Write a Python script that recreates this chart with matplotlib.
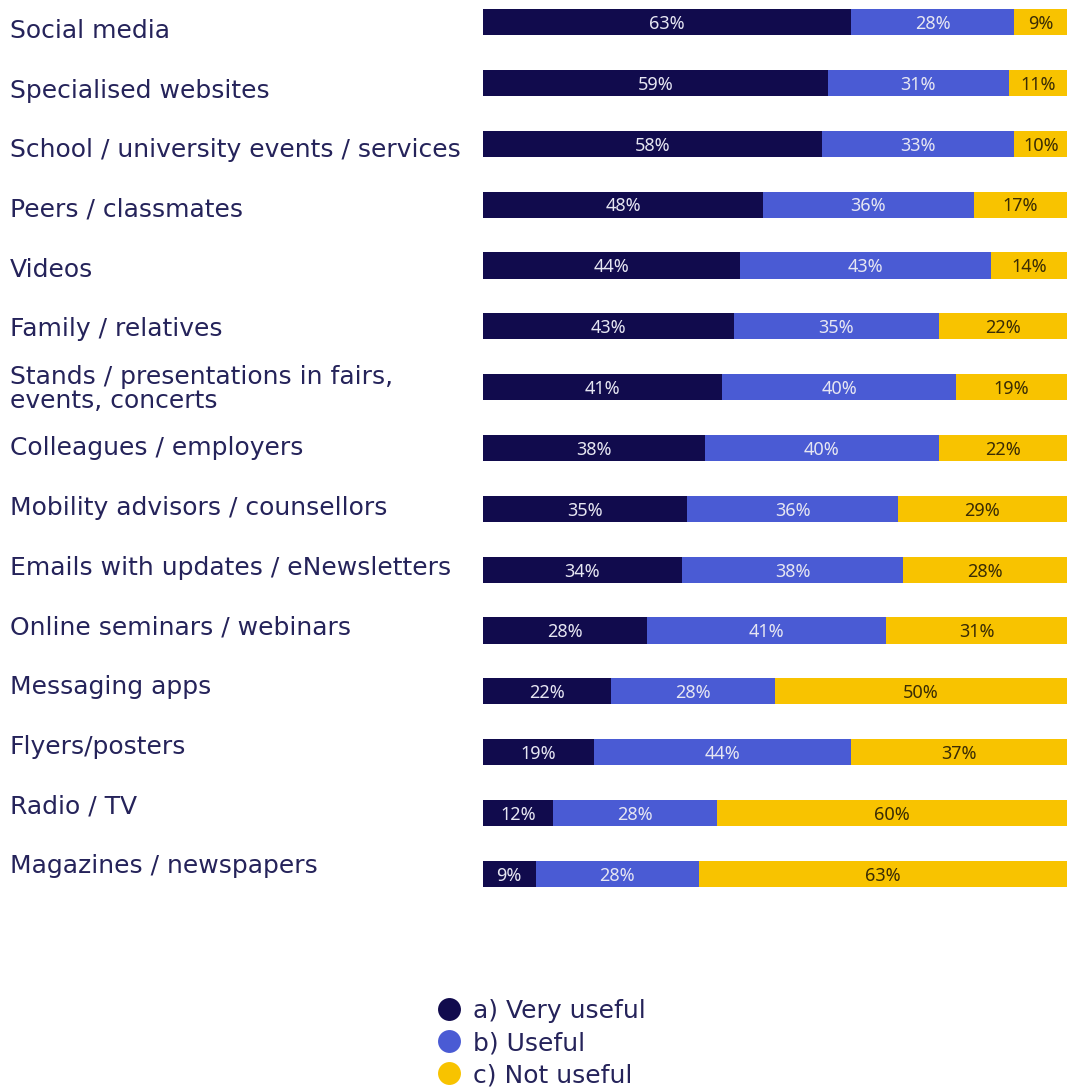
import matplotlib.pyplot as plt
from matplotlib.lines import Line2D
import numpy as np

# survey categories, top to bottom
categories = [
    'Social media',
    'Specialised websites',
    'School / university events / services',
    'Peers / classmates',
    'Videos',
    'Family / relatives',
    'Stands / presentations in fairs,\nevents, concerts',
    'Colleagues / employers',
    'Mobility advisors / counsellors',
    'Emails with updates / eNewsletters',
    'Online seminars / webinars',
    'Messaging apps',
    'Flyers/posters',
    'Radio / TV',
    'Magazines / newspapers',
]

very_useful = [63, 59, 58, 48, 44, 43, 41, 38, 35, 34, 28, 22, 19, 12, 9]
useful = [28, 31, 33, 36, 43, 35, 40, 40, 36, 38, 41, 28, 44, 28, 28]
not_useful = [9, 11, 10, 17, 14, 22, 19, 22, 29, 28, 31, 50, 37, 60, 63]

series_names = ['a) Very useful', 'b) Useful', 'c) Not useful']
colors = ['#110b4d', '#4a5bd4', '#f8c300']
text_colors = ['#e6e6f2', '#e6e6f2', '#3a2c05']
label_color = '#25235a'

plt.rcParams['font.family'] = ['DejaVu Sans']

W, H = 1070, 1091
fig = plt.figure(figsize=(W / 100, H / 100), dpi=100)
ax = fig.add_axes([483 / W, 1 - 887 / H, 584 / W, 878 / H])

bar_h = 0.43
y = np.arange(len(categories))
left = np.zeros(len(categories))
for vals, c, tc in zip([very_useful, useful, not_useful], colors, text_colors):
    vals = np.array(vals, dtype=float)
    ax.barh(y, vals, left=left, height=bar_h, color=c, edgecolor='none')
    for yi, l, v in zip(y, left, vals):
        right = min(l + v, 100)
        ax.text((l + right) / 2, yi + 0.03, f'{int(v)}%', ha='center', va='center',
                color=tc, fontsize=13, fontweight='semibold', family='Noto Sans')
    left = left + vals

ax.set_xlim(0, 100)
ax.set_ylim(len(categories) - 1 + bar_h / 2, -bar_h / 2)
ax.axis('off')

# category labels down the left side, spaced slightly tighter than the bars
label_y = np.linspace(1 - 31 / H, 1 - 866 / H, len(categories))
for ly, cat in zip(label_y, categories):
    fig.text(10 / W, ly, cat, ha='left', va='center', color=label_color,
             fontsize=18, linespacing=1.0)

handles = [Line2D([0], [0], marker='o', linestyle='none', markersize=16.5,
                  markerfacecolor=c, markeredgecolor='none') for c in colors]
fig.legend(handles, series_names, loc='upper left', bbox_to_anchor=(439 / W, 1 - 999 / H),
           frameon=False, prop={'size': 18}, handlelength=0.8, borderaxespad=0,
           handletextpad=0.55, labelspacing=0.32, borderpad=0, labelcolor=label_color)

fig.savefig('out.png', dpi=100, facecolor='white')
